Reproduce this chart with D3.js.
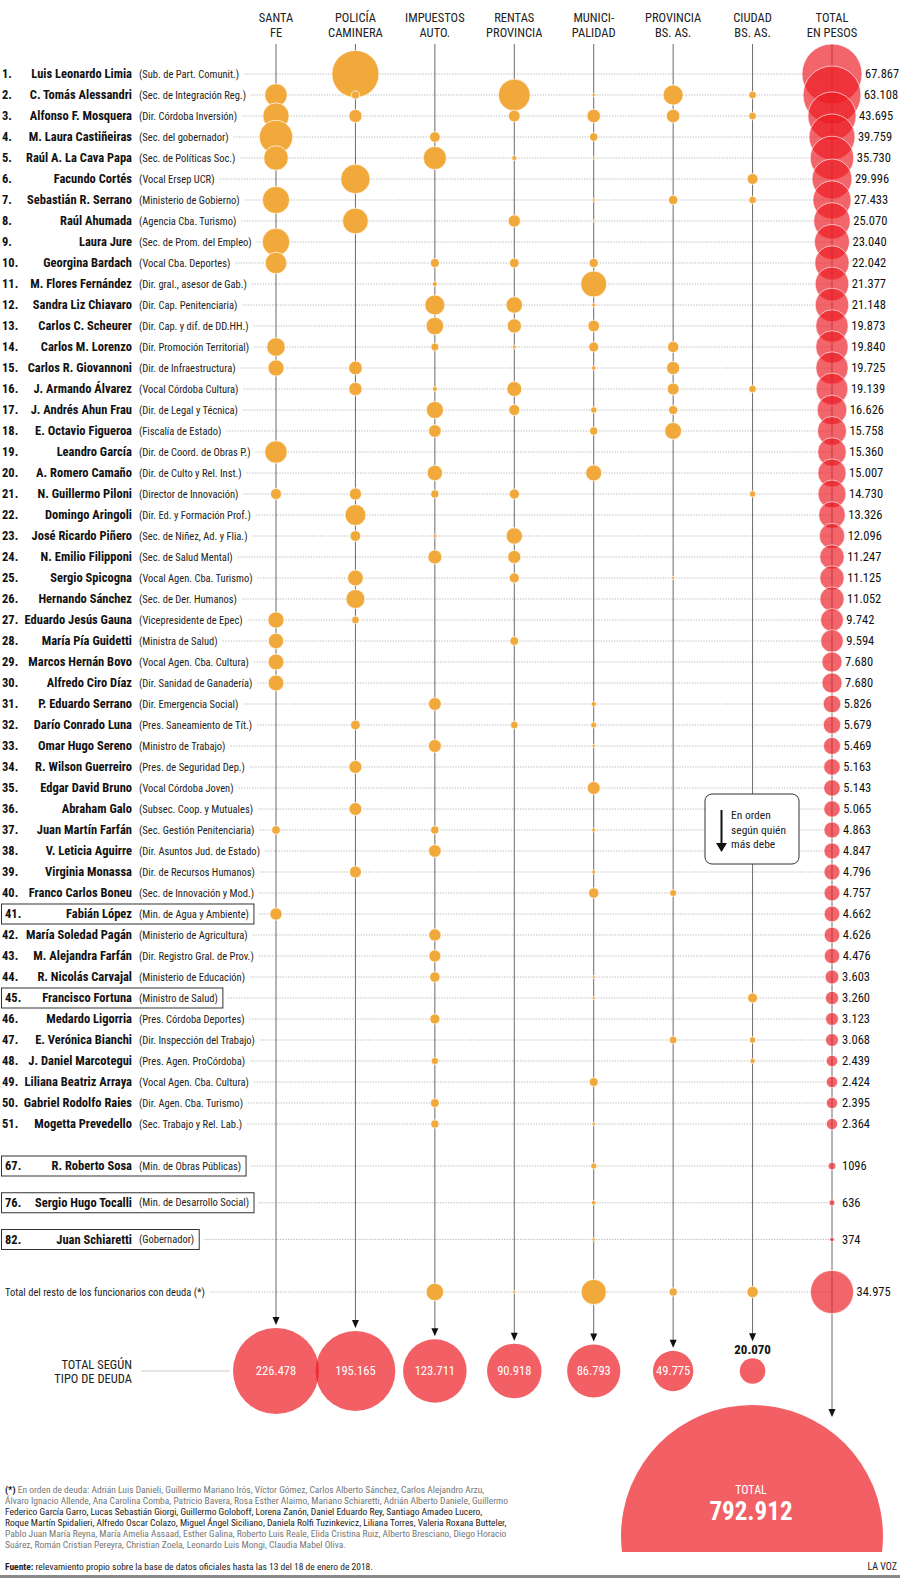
<!DOCTYPE html>
<html><head><meta charset="utf-8">
<script src="https://cdn.jsdelivr.net/npm/d3@7"></script>
<style>
body{margin:0;background:#fff}
svg text{font-family:"Liberation Sans Narrow","Roboto Condensed","DejaVu Sans Condensed","Arial Narrow","Liberation Sans",sans-serif}
</style></head><body><svg id="c" width="900" height="1578"></svg>
<script>
// ---------- DATA ----------
const categories = ["SANTA FE","POLICÍA CAMINERA","IMPUESTOS AUTO.","RENTAS PROVINCIA","MUNICIPALIDAD","PROVINCIA BS. AS.","CIUDAD BS. AS."];
const headerLines = [["SANTA","FE"],["POLICÍA","CAMINERA"],["IMPUESTOS","AUTO."],["RENTAS","PROVINCIA"],["MUNICI-","PALIDAD"],["PROVINCIA","BS. AS."],["CIUDAD","BS. AS."],["TOTAL","EN PESOS"]];
const ranks = ["1.","2.","3.","4.","5.","6.","7.","8.","9.","10.","11.","12.","13.","14.","15.","16.","17.","18.","19.","20.","21.","22.","23.","24.","25.","26.","27.","28.","29.","30.","31.","32.","33.","34.","35.","36.","37.","38.","39.","40.","41.","42.","43.","44.","45.","46.","47.","48.","49.","50.","51.","67.","76.","82.",""];
const names = ["Luis Leonardo Limia","C. Tomás Alessandri","Alfonso F. Mosquera","M. Laura Castiñeiras","Raúl A. La Cava Papa","Facundo Cortés","Sebastián R. Serrano","Raúl Ahumada","Laura Jure","Georgina Bardach","M. Flores Fernández","Sandra Liz Chiavaro","Carlos C. Scheurer","Carlos M. Lorenzo","Carlos R. Giovannoni","J. Armando Álvarez","J. Andrés Ahun Frau","E. Octavio Figueroa","Leandro García","A. Romero Camaño","N. Guillermo Piloni","Domingo Aringoli","José Ricardo Piñero","N. Emilio Filipponi","Sergio Spicogna","Hernando Sánchez","Eduardo Jesús Gauna","María Pía Guidetti","Marcos Hernán Bovo","Alfredo Ciro Díaz","P. Eduardo Serrano","Darío Conrado Luna","Omar Hugo Sereno","R. Wilson Guerreiro","Edgar David Bruno","Abraham Galo","Juan Martín Farfán","V. Leticia Aguirre","Virginia Monassa","Franco Carlos Boneu","Fabián López","María Soledad Pagán","M. Alejandra Farfán","R. Nicolás Carvajal","Francisco Fortuna","Medardo Ligorria","E. Verónica Bianchi","J. Daniel Marcotegui","Liliana Beatriz Arraya","Gabriel Rodolfo Raies","Mogetta Prevedello","R. Roberto Sosa","Sergio Hugo Tocalli","Juan Schiaretti","Total del resto de los funcionarios con deuda (*)"];
const roles = ["(Sub. de Part. Comunit.)","(Sec. de Integración Reg.)","(Dir. Córdoba Inversión)","(Sec. del gobernador)","(Sec. de Políticas Soc.)","(Vocal Ersep UCR)","(Ministerio de Gobierno)","(Agencia Cba. Turismo)","(Sec. de Prom. del Empleo)","(Vocal Cba. Deportes)","(Dir. gral., asesor de Gab.)","(Dir. Cap. Penitenciaria)","(Dir. Cap. y dif. de DD.HH.)","(Dir. Promoción Territorial)","(Dir. de Infraestructura)","(Vocal Córdoba Cultura)","(Dir. de Legal y Técnica)","(Fiscalía de Estado)","(Dir. de Coord. de Obras P.)","(Dir. de Culto y Rel. Inst.)","(Director de Innovación)","(Dir. Ed. y Formación Prof.)","(Sec. de Niñez, Ad. y Flia.)","(Sec. de Salud Mental)","(Vocal Agen. Cba. Turismo)","(Sec. de Der. Humanos)","(Vicepresidente de Epec)","(Ministra de Salud)","(Vocal Agen. Cba. Cultura)","(Dir. Sanidad de Ganadería)","(Dir. Emergencia Social)","(Pres. Saneamiento de Tít.)","(Ministro de Trabajo)","(Pres. de Seguridad Dep.)","(Vocal Córdoba Joven)","(Subsec. Coop. y Mutuales)","(Sec. Gestión Penitenciaria)","(Dir. Asuntos Jud. de Estado)","(Dir. de Recursos Humanos)","(Sec. de Innovación y Mod.)","(Min. de Agua y Ambiente)","(Ministerio de Agricultura)","(Dir. Registro Gral. de Prov.)","(Ministerio de Educación)","(Ministro de Salud)","(Pres. Córdoba Deportes)","(Dir. Inspección del Trabajo)","(Pres. Agen. ProCórdoba)","(Vocal Agen. Cba. Cultura)","(Dir. Agen. Cba. Turismo)","(Sec. Trabajo y Rel. Lab.)","(Min. de Obras Públicas)","(Min. de Desarrollo Social)","(Gobernador)",""];
const boxedRanks = ["41.","45.","67.","76.","82."];
const totals = [67867,63108,43695,39759,35730,29996,27433,25070,23040,22042,21377,21148,19873,19840,19725,19139,16626,15758,15360,15007,14730,13326,12096,11247,11125,11052,9742,9594,7680,7680,5826,5679,5469,5163,5143,5065,4863,4847,4796,4757,4662,4626,4476,3603,3260,3123,3068,2439,2424,2395,2364,1096,636,374,34975];
const santaFe = [0,15570,21150,34110,18400,0,22580,0,23040,14138, 0,0,0,10482,7970,0,0,0,15360,0, 3716,0,0,0,0,0,7976,7222,7680,7680, 0,0,0,0,0,0,2288,0,0,0, 4662,0,0,0,0,0,0,0,0,0, 0,0,0,0,0];
const policia = [67867,1986,5290,0,0,26340,0,20260,0,0, 0,0,0,0,5808,5444,0,0,0,0, 4539,13326,3503,0,7674,11052,1766,0,0,0, 0,2818,0,5163,0,5065,0,0,4344,0, 0,0,0,0,0,0,0,0,0,0, 0,0,0,0,0];
const impuestos = [0,0,0,3470,16316,0,0,0,0,2490, 730,12275,9450,1926,0,758,9063,4921,0,7227, 2017,0,431,5983,0,0,0,0,0,0, 5012,0,5143,0,0,0,2080,4847,0,0, 0,4626,4476,3318,0,3123,0,1592,0,2395, 2002,0,0,0,9283];
const rentas = [0,30990,4210,0,799,0,0,4607,0,2818, 0,8428,6220,437,0,6822,3766,0,0,0, 3213,0,8162,5264,3129,0,0,2372,0,0, 0,1769,0,0,0,0,0,0,0,0, 0,0,0,0,0,0,0,0,0,0, 0,0,0,0,317];
const municipalidad = [0,360,5620,2179,215,0,320,203,0,2596, 20647,445,4203,3067,627,0,1219,2088,0,7780, 0,0,0,0,0,0,0,0,0,0, 814,1092,326,0,5143,0,495,0,452,3294, 0,0,0,285,304,0,0,0,2424,0, 362,1096,636,374,19400];
const provinciaBA = [0,12410,5620,0,0,0,2760,0,0,0, 0,0,0,3928,5320,4366,2578,8749,0,0, 0,0,0,0,322,0,0,0,0,0, 0,0,0,0,0,0,0,0,0,1463, 0,0,0,0,0,0,1825,0,0,0, 0,0,0,0,2027];
const ciudadBA = [0,1792,1805,0,0,3656,1773,0,0,0, 0,0,0,0,0,1749,0,0,0,0, 1245,0,0,0,0,0,0,0,0,0, 0,0,0,0,0,0,0,0,0,0, 0,0,0,0,2956,0,1243,847,0,0, 0,0,0,0,3948];
const categoryTotals = [226478,195165,123711,90918,86793,49775,20070];
const grandTotal = 792912;
const footnoteLines = [
 "En orden de deuda: Adrián Luis Danieli, Guillermo Mariano Irós, Víctor Gómez, Carlos Alberto Sánchez, Carlos Alejandro Arzu,",
 "Álvaro Ignacio Allende, Ana Carolina Comba, Patricio Bavera, Rosa Esther Alaimo, Mariano Schiaretti, Adrián Alberto Daniele, Guillermo",
 "Federico García Garro, Lucas Sebastián Giorgi, Guillermo Goloboff, Lorena Zanón, Daniel Eduardo Rey, Santiago Amadeo Lucero,",
 "Roque Martín Spidalieri, Alfredo Oscar Colazo, Miguel Ángel Siciliano, Daniela Rolfi Tuzinkevicz, Liliana Torres, Valeria Roxana Butteler,",
 "Pablo Juan María Reyna, María Amelia Assaad, Esther Galina, Roberto Luis Reale, Elida Cristina Ruiz, Alberto Bresciano, Diego Horacio",
 "Suárez, Román Cristian Pereyra, Christian Zoela, Leonardo Luis Mongi, Claudia Mabel Oliva."
];

// ---------- CHART ----------
const svg = d3.select("#c");
const series = [santaFe, policia, impuestos, rentas, municipalidad, provinciaBA, ciudadBA];
const ORANGE = "#f2a93b", RED = "#ec1c24";
const loc = d3.formatLocale({decimal: ",", thousands: ".", grouping: [3], currency: ["$", ""]});
const fmt = v => v >= 2000 ? loc.format(",")(v) : String(v);

const x = d3.scalePoint().domain(d3.range(8)).range([276, 832]);
const slot = i => i < 51 ? i : (i < 54 ? 52 + (i - 51) * 1.75 : 58);
const y = d3.scaleLinear().domain([0, 58]).range([74, 1292]);
const rDot = d3.scaleSqrt().domain([0, 226478]).range([0, 43]);
const rTot = d3.scaleSqrt().domain([0, 67867]).range([0, 30]);
const rGrand = d3.scaleSqrt().domain([0, grandTotal]).range([0, 131]);
const bottomY = 1371;

// header
const hdr = svg.append("g");
headerLines.forEach((ls, c) => {
  const t = hdr.append("text").attr("text-anchor", "middle").attr("font-size", 12.5).attr("fill", "#222");
  ls.forEach((l, k) => t.append("tspan").attr("x", x(c)).attr("y", 22 + k * 15).text(l));
});

// labels + row lines
const gLines = svg.append("g");
const gLab = svg.append("g");
names.forEach((n, i) => {
  const yy = y(slot(i));
  let end;
  if (i === 54) {
    const t = gLab.append("text").attr("x", 5).attr("y", yy).attr("dy", "0.35em").attr("font-size", 10.5).attr("fill", "#222").text(n);
    end = 5 + t.node().getComputedTextLength();
  } else {
    const boxed = boxedRanks.includes(ranks[i]);
    gLab.append("text").attr("x", boxed ? 5 : 2).attr("y", yy).attr("dy", "0.35em").attr("font-size", 12.5).attr("font-weight", "bold").attr("fill", "#111").text(ranks[i]);
    gLab.append("text").attr("x", 132).attr("y", yy).attr("dy", "0.35em").attr("text-anchor", "end").attr("font-size", 12.5).attr("font-weight", "bold").attr("fill", "#111").text(n);
    const t = gLab.append("text").attr("x", 139).attr("y", yy).attr("dy", "0.35em").attr("font-size", 10.5).attr("fill", "#222").text(roles[i]);
    end = 139 + t.node().getComputedTextLength();
    if (boxed) {
      gLab.append("rect").attr("x", 1.5).attr("y", yy - 10).attr("width", end + 5 - 1.5).attr("height", 20)
        .attr("fill", "none").attr("stroke", "#333").attr("stroke-width", 1);
      end += 5;
    }
  }
  gLines.append("line").attr("x1", end + 5).attr("x2", 832).attr("y1", yy).attr("y2", yy)
    .attr("stroke", "#a8a8a8").attr("stroke-width", 0.7).attr("stroke-dasharray", "1.5,1.2");
});

// vertical lines with arrows
const gV = svg.append("g");
for (let c = 0; c < 8; c++) {
  let tip;
  if (c < 7) {
    const r = rDot(categoryTotals[c]);
    tip = r < 16 ? bottomY - r - 17 : bottomY - r - 3;
  } else tip = 1417;
  gV.append("line").attr("x1", x(c)).attr("x2", x(c)).attr("y1", 44).attr("y2", tip - 4).attr("stroke", "#6a6a6a").attr("stroke-width", 1);
  gV.append("path").attr("d", `M${x(c) - 3.5},${tip - 8}L${x(c) + 3.5},${tip - 8}L${x(c)},${tip}Z`).attr("fill", "#111");
}

// orange dots
const gDots = svg.append("g");
series.forEach((s, c) => {
  s.forEach((v, i) => {
    if (v > 0) gDots.append("circle").attr("cx", x(c)).attr("cy", y(slot(i))).attr("r", rDot(v))
      .attr("fill", ORANGE).attr("stroke", "#fff").attr("stroke-width", 0.7);
  });
});

// total column
const gT = svg.append("g");
totals.forEach((v, i) => {
  const r = rTot(v);
  gT.append("circle").attr("cx", x(7)).attr("cy", y(slot(i))).attr("r", r)
    .attr("fill", RED).attr("fill-opacity", 0.68).attr("stroke", "#fff").attr("stroke-opacity", 0.8).attr("stroke-width", 0.8);
});
totals.forEach((v, i) => {
  const r = rTot(v);
  gT.append("text").attr("x", x(7) + Math.max(10, r + 3)).attr("y", y(slot(i))).attr("dy", "0.35em")
    .attr("font-size", 12.5).attr("fill", "#111").text(fmt(v));
});

// note box
const nb = svg.append("g");
nb.append("rect").attr("x", 705).attr("y", 794).attr("width", 94).attr("height", 70).attr("rx", 7)
  .attr("fill", "#fff").attr("stroke", "#333").attr("stroke-width", 1);
nb.append("line").attr("x1", 721.5).attr("x2", 721.5).attr("y1", 810).attr("y2", 845).attr("stroke", "#111").attr("stroke-width", 2);
nb.append("path").attr("d", "M716,843L727,843L721.5,852Z").attr("fill", "#111");
["En orden", "según quién", "más debe"].forEach((l, k) =>
  nb.append("text").attr("x", 731).attr("y", 815 + k * 14.5).attr("dy", "0.35em").attr("font-size", 11.5).attr("fill", "#222").text(l));

// bottom totals
const gB = svg.append("g");
gB.append("line").attr("x1", 141).attr("x2", 230).attr("y1", bottomY).attr("y2", bottomY).attr("stroke", "#ccc").attr("stroke-width", 1);
const tl = gB.append("text").attr("text-anchor", "end").attr("font-size", 12.5).attr("fill", "#222");
tl.append("tspan").attr("x", 132).attr("y", 1369).text("TOTAL SEGÚN");
tl.append("tspan").attr("x", 132).attr("y", 1383).text("TIPO DE DEUDA");
categoryTotals.forEach((v, c) => {
  const r = rDot(v);
  gB.append("circle").attr("cx", x(c)).attr("cy", bottomY).attr("r", r).attr("fill", RED).attr("fill-opacity", 0.7);
  if (r >= 16) {
    gB.append("text").attr("x", x(c)).attr("y", bottomY).attr("dy", "0.35em").attr("text-anchor", "middle")
      .attr("font-size", 12.5).attr("fill", "#fff").text(fmt(v));
  } else {
    gB.append("text").attr("x", x(c)).attr("y", bottomY - r - 9).attr("dy", "0.35em").attr("text-anchor", "middle")
      .attr("font-size", 13).attr("font-weight", "bold").attr("fill", "#111").text(fmt(v));
  }
});

// grand total
svg.append("clipPath").attr("id", "gclip").append("rect").attr("x", 0).attr("y", 0).attr("width", 900).attr("height", 1552);
const gG = svg.append("g");
gG.append("circle").attr("cx", 752).attr("cy", 1536).attr("r", rGrand(grandTotal)).attr("fill", RED).attr("fill-opacity", 0.7).attr("clip-path", "url(#gclip)");
gG.append("text").attr("x", 751).attr("y", 1490).attr("dy", "0.35em").attr("text-anchor", "middle").attr("font-size", 12).attr("fill", "#fff").text("TOTAL");
gG.append("text").attr("x", 751).attr("y", 1511).attr("dy", "0.35em").attr("text-anchor", "middle").attr("font-size", 25).attr("font-weight", "bold").attr("fill", "#fff").text(fmt(grandTotal));

// footnote
const gF = svg.append("g");
footnoteLines.forEach((l, k) => {
  const t = gF.append("text").attr("x", 5).attr("y", 1490 + k * 10.9).attr("dy", "0.35em").attr("font-size", 9.5)
    .attr("fill", (k === 2 || k === 3) ? "#222" : "#777");
  if (k === 0) t.append("tspan").attr("font-weight", "bold").attr("fill", "#111").text("(*) ");
  t.append("tspan").text(l);
});
const src = gF.append("text").attr("x", 5).attr("y", 1566.5).attr("dy", "0.35em").attr("font-size", 9.5).attr("fill", "#222");
src.append("tspan").attr("font-weight", "bold").text("Fuente:");
src.append("tspan").text(" relevamiento propio sobre la base de datos oficiales hasta las 13 del 18 de enero de 2018.");
gF.append("text").attr("x", 897).attr("y", 1566.5).attr("dy", "0.35em").attr("text-anchor", "end").attr("font-size", 10).attr("fill", "#222").text("LA VOZ");
svg.append("rect").attr("x", 0).attr("y", 1575).attr("width", 900).attr("height", 3).attr("fill", "#8a8a8a");
</script></body></html>
